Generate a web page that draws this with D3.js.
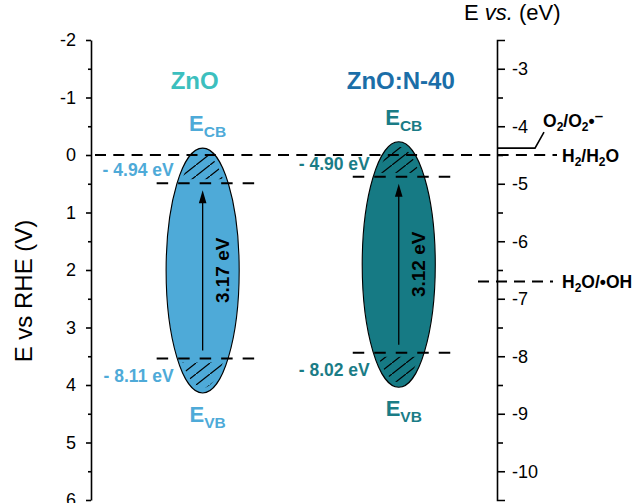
<!DOCTYPE html>
<html><head><meta charset="utf-8">
<script src="https://cdn.jsdelivr.net/npm/d3@7"></script>
<style>
body{margin:0;background:#fff;}
text{font-family:"Liberation Sans",Arial,Helvetica,sans-serif;}
</style></head><body>
<svg id="chart" width="636" height="503"></svg>
<script>
// ---- data ----
const materials = ["ZnO", "ZnO:N-40"];
const cbLabels = ["- 4.94 eV", "- 4.90 eV"];
const vbLabels = ["- 8.11 eV", "- 8.02 eV"];
const gapLabels = ["3.17 eV", "3.12 eV"];
const xPos = [0.275, 0.758];          // horizontal position (0..1 of plot width)
const cbV = [0.49, 0.38];             // CB level, V vs RHE
const vbV = [3.54, 3.44];             // VB level, V vs RHE
const topV = [-0.12, -0.23];          // ellipse top, V vs RHE
const botV = [4.14, 4.04];            // ellipse bottom, V vs RHE
const leftTicks = [-2, -1, 0, 1, 2, 3, 4, 5, 6];
const rightTicks = [-3, -4, -5, -6, -7, -8, -9, -10];
const redoxNames = ["O2/O2•-", "H2/H2O", "H2O/•OH"];
const redoxE = [-4.38, -4.50, -6.70];   // eV (vacuum scale)

// ---- styles ----
const fills = ["#4eaad8", "#167a84"];
const labelColors = ["#4eaad8", "#1a7c86"];
const titleColors = ["#3cbfbe", "#1b6ea8"];

const svg = d3.select("#chart");
const y = d3.scaleLinear().domain([-2, 6]).range([40, 500]);
const yR = d3.scaleLinear().domain([-2.5, -10.5]).range([40, 500]);
const x = d3.scaleLinear().domain([0, 1]).range([91, 497]);

// hatch pattern
const defs = svg.append("defs");
defs.append("pattern").attr("id", "hatch").attr("patternUnits", "userSpaceOnUse")
  .attr("width", 14).attr("height", 11)
  .append("path").attr("d", "M-2,12.57L16,-1.57").attr("stroke", "#000").attr("stroke-width", 1.2);

// ---- axes ----
const fmt = d => String(d);
const gL = svg.append("g").attr("transform", "translate(91,0)")
  .call(d3.axisLeft(y).tickValues(leftTicks).tickSize(5).tickSizeOuter(0).tickPadding(10).tickFormat(fmt));
const gLm = svg.append("g").attr("transform", "translate(91,0)")
  .call(d3.axisLeft(y).tickValues(d3.range(-1.5, 6, 1)).tickSize(3).tickFormat(""));
gLm.select(".domain").remove();

const gR = svg.append("g").attr("transform", "translate(497,0)")
  .call(d3.axisRight(yR).tickValues(rightTicks).tickSize(8).tickSizeOuter(8).tickPadding(7).tickFormat(fmt));
const gRm = svg.append("g").attr("transform", "translate(497,0)")
  .call(d3.axisRight(yR).tickValues(d3.range(-3.5, -10.4, -1)).tickSize(6).tickFormat(""));
gRm.select(".domain").remove();

[gL, gLm, gR, gRm].forEach(g => {
  g.selectAll("path,line").attr("stroke", "#000").attr("stroke-width", 1.6);
  g.selectAll("text").attr("font-size", 18).attr("fill", "#000")
    .attr("font-family", '"Liberation Sans",Arial,sans-serif');
});

// axis titles
svg.append("text").attr("transform", `translate(32,${(y(-2)+y(6))/2 + 21}) rotate(-90)`)
  .attr("text-anchor", "middle").attr("font-size", 24).text("E vs RHE (V)");
const tt = svg.append("text").attr("x", 464).attr("y", 20).attr("font-size", 22);
tt.append("tspan").text("E ");
tt.append("tspan").attr("font-style", "italic").text("vs.");
tt.append("tspan").text(" (eV)");

// ---- band ellipses ----
materials.forEach((m, i) => {
  const cx = x(xPos[i]);
  const rx = x(xPos[i] + 0.09) - cx;
  const yt = y(topV[i]), yb = y(botV[i]);
  const cy = (yt + yb) / 2, ry = (yb - yt) / 2;
  const ycb = y(cbV[i]), yvb = y(vbV[i]);

  svg.append("ellipse").attr("cx", cx).attr("cy", cy).attr("rx", rx).attr("ry", ry)
    .attr("fill", fills[i]).attr("stroke", "#000").attr("stroke-width", 1.1);

  defs.append("clipPath").attr("id", "clip" + i)
    .append("ellipse").attr("cx", cx).attr("cy", cy).attr("rx", rx - 4).attr("ry", ry - 5);
  const hg = svg.append("g").attr("clip-path", `url(#clip${i})`);
  hg.append("rect").attr("x", cx - rx).attr("width", 2 * rx)
    .attr("y", yt + 5).attr("height", (ycb - 4) - (yt + 5)).attr("fill", "url(#hatch)");
  hg.append("rect").attr("x", cx - rx).attr("width", 2 * rx)
    .attr("y", yvb + 4).attr("height", (yb - 4) - (yvb + 4)).attr("fill", "url(#hatch)");

  // short dashed CB / VB lines
  [ycb, yvb].forEach(yy => {
    svg.append("line").attr("x1", cx - 46).attr("x2", cx + 52).attr("y1", yy).attr("y2", yy)
      .attr("stroke", "#000").attr("stroke-width", 2).attr("stroke-dasharray", "11.5,10");
  });

  // arrow
  const tip = ycb + 7, base = yvb - 8;
  svg.append("line").attr("x1", cx).attr("x2", cx).attr("y1", base).attr("y2", tip + 10)
    .attr("stroke", "#000").attr("stroke-width", 1.3);
  svg.append("path").attr("d", `M${cx},${tip}L${cx - 3.8},${tip + 13}L${cx + 3.8},${tip + 13}Z`).attr("fill", "#000");
  svg.append("text").attr("transform", `translate(${cx + 26},${(tip + base) / 2}) rotate(-90)`)
    .attr("text-anchor", "middle").attr("font-size", 19).attr("font-weight", "bold").text(gapLabels[i]);

  // titles
  svg.append("text").attr("x", cx + (i === 0 ? -8 : 2)).attr("y", 89).attr("text-anchor", "middle")
    .attr("font-size", 24).attr("font-weight", "bold").attr("fill", titleColors[i]).text(m);

  // E_CB / E_VB
  const lab = (yy, sub) => {
    const t = svg.append("text").attr("x", cx + 5).attr("y", yy).attr("text-anchor", "middle")
      .attr("font-weight", "bold").attr("fill", labelColors[i]);
    t.append("tspan").attr("font-size", 22).text("E");
    t.append("tspan").attr("font-size", 15.5).attr("dy", 6).text(sub);
  };
  lab(yt - 17, "CB");
  lab(yb + 29, "VB");

  // eV labels
  svg.append("text").attr("x", cx - 29).attr("y", ycb - 7).attr("text-anchor", "end")
    .attr("font-size", 17.5).attr("font-weight", "bold").attr("fill", labelColors[i]).text(cbLabels[i]);
  svg.append("text").attr("x", cx - 29).attr("y", yvb + 23).attr("text-anchor", "end")
    .attr("font-size", 17.5).attr("font-weight", "bold").attr("fill", labelColors[i]).text(vbLabels[i]);
});

// ---- redox levels ----
const redoxText = (xx, yy, s) => {
  const t = svg.append("text").attr("x", xx).attr("y", yy).attr("font-size", 17.5).attr("font-weight", "bold");
  let shift = 0;
  for (const ch of s) {
    let target = 0, size = 17.5;
    if (ch === "2") { target = 4; size = 12; }
    else if (ch === "-") { target = -6; size = 15; }
    t.append("tspan").attr("font-size", size).attr("dy", target - shift).text(ch === "-" ? "\u2013" : ch);
    shift = target;
  }
};
// O2/O2•- : solid leader
{
  const yy = yR(redoxE[0]);
  svg.append("path").attr("d", `M497,${yy}H535L544,${yy - 16}`).attr("fill", "none")
    .attr("stroke", "#000").attr("stroke-width", 1.6);
  redoxText(543, yy - 21, redoxNames[0]);
}
// H2/H2O : long dashed line across the plot
{
  const yy = yR(redoxE[1]);
  svg.append("line").attr("x1", 95).attr("x2", 557).attr("y1", yy).attr("y2", yy)
    .attr("stroke", "#000").attr("stroke-width", 2).attr("stroke-dasharray", "11,7.3");
  redoxText(562, yy + 7, redoxNames[1]);
}
// H2O/•OH
{
  const yy = yR(redoxE[2]);
  svg.append("line").attr("x1", 478).attr("x2", 553).attr("y1", yy).attr("y2", yy)
    .attr("stroke", "#000").attr("stroke-width", 2).attr("stroke-dasharray", "11,7");
  redoxText(562, yy + 6, redoxNames[2]);
}
</script>
</body></html>
